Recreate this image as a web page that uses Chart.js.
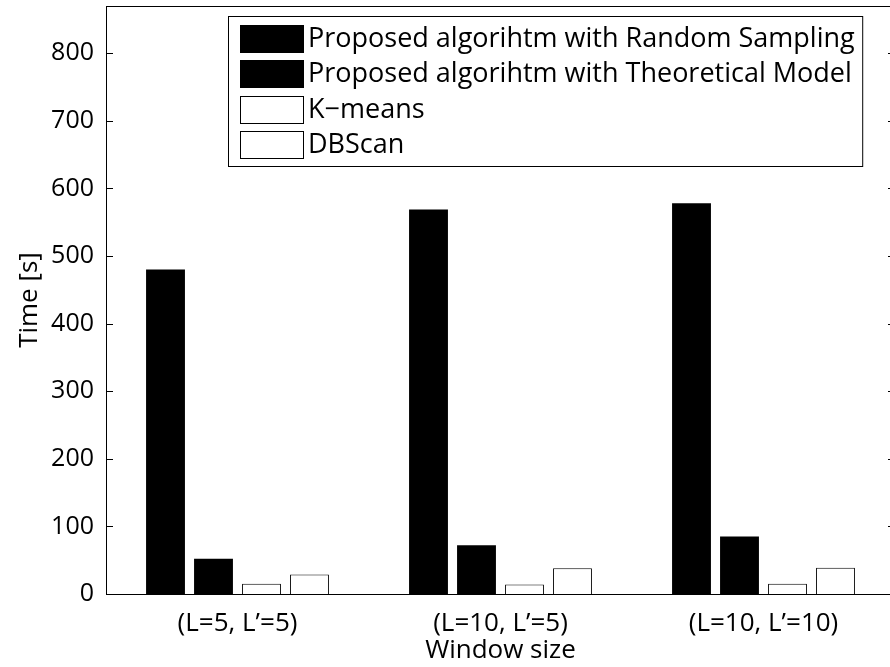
<!DOCTYPE html>
<html>
<head>
  <title>Time by window size</title>
  <script src="https://cdn.jsdelivr.net/npm/chart.js"></script>
  <style>
    html, body { margin: 0; padding: 0; overflow: hidden; background: #fff; }
  </style>
</head>
<body>
  <canvas id="timeChart" width="900" height="667"></canvas>

  <script>
    // values
    const windowSizes = ["(L=5, L\u2019=5)", "(L=10, L\u2019=5)", "(L=10, L\u2019=10)"];
    const randomSampling = [480, 569, 578];
    const theoreticalModel = [52, 72, 85];
    const kMeans = [15, 14, 15];
    const dbScan = [29, 38, 39];
    const yTicks = [0, 100, 200, 300, 400, 500, 600, 700, 800];

    const fontFamily = "'Open Sans', 'DejaVu Sans', sans-serif";
    const tickSize = 25;
    const labelSize = 26;
    const legendSize = 27;

    // frame, inward ticks and the boxed legend (MATLAB look)
    const matlabFrame = {
      id: "matlabFrame",
      afterDatasetsDraw(chart) {
        const { ctx, chartArea: a, scales: { y } } = chart;
        ctx.save();
        ctx.strokeStyle = "#000";
        ctx.lineWidth = 1;
        ctx.strokeRect(a.left + 0.5, a.top + 0.5, a.right - a.left, a.bottom - a.top);
        yTicks.forEach(v => {
          const py = Math.round(y.getPixelForValue(v)) + 0.5;
          ctx.beginPath();
          ctx.moveTo(a.left, py); ctx.lineTo(a.left + 7, py);
          ctx.moveTo(a.right, py); ctx.lineTo(a.right - 7, py);
          ctx.stroke();
        });

        // legend
        const boxX = 228.5, boxY = 16.5;
        const swX = 240, swW = 63, swH = 27, rowH = 35.3, textX = 308;
        ctx.font = legendSize + "px " + fontFamily;
        const sets = chart.data.datasets;
        let maxW = 0;
        sets.forEach(ds => { maxW = Math.max(maxW, ctx.measureText(ds.label).width); });
        const boxW = textX + maxW + 8 - boxX;
        const boxH = 150;
        ctx.fillStyle = "#fff";
        ctx.fillRect(boxX, boxY, boxW, boxH);
        ctx.strokeRect(boxX, boxY, boxW, boxH);
        ctx.textBaseline = "middle";
        sets.forEach((ds, i) => {
          const top = 25 + i * rowH;
          ctx.fillStyle = ds.backgroundColor;
          ctx.fillRect(swX + 0.5, Math.round(top) + 0.5, swW, swH);
          ctx.strokeRect(swX + 0.5, Math.round(top) + 0.5, swW, swH);
          ctx.fillStyle = "#000";
          ctx.fillText(ds.label, textX, top + swH / 2 + 1);
        });
        ctx.restore();
      }
    };

    new Chart(document.getElementById("timeChart"), {
      type: "bar",
      data: {
        labels: windowSizes,
        datasets: [
          { label: "Proposed algorihtm with Random Sampling", data: randomSampling, backgroundColor: "#000", borderColor: "#000", borderWidth: 0 },
          { label: "Proposed algorihtm with Theoretical Model", data: theoreticalModel, backgroundColor: "#000", borderColor: "#000", borderWidth: 0 },
          { label: "K\u2212means", data: kMeans, backgroundColor: "#fff", borderColor: "#000", borderWidth: 1 },
          { label: "DBScan", data: dbScan, backgroundColor: "#fff", borderColor: "#000", borderWidth: 1 }
        ]
      },
      options: {
        responsive: false,
        animation: false,
        devicePixelRatio: 1,
        categoryPercentage: 0.73,
        barPercentage: 0.81,
        layout: { padding: { top: 6, right: 5, left: 0, bottom: 0 } },
        plugins: { legend: { display: false }, tooltip: { enabled: false } },
        scales: {
          x: {
            grid: { display: false },
            border: { display: false },
            ticks: { color: "#000", font: { family: fontFamily, size: labelSize }, padding: 6, maxRotation: 0 },
            title: { display: true, text: "Window size", color: "#000", font: { family: fontFamily, size: labelSize }, padding: { top: 0, bottom: 1 } },
            afterFit(scale) {
              scale.height = 73;
              scale.paddingLeft = 0;
              scale.paddingRight = 0;
            }
          },
          y: {
            min: 0,
            max: 870,
            grid: { display: false },
            border: { display: false },
            ticks: {
              stepSize: 100,
              color: "#000",
              font: { family: fontFamily, size: tickSize },
              padding: 4,
              callback: v => (v % 100 === 0 ? v : "")
            },
            title: { display: true, text: "Time [s]", color: "#000", font: { family: fontFamily, size: labelSize }, padding: { top: 14, bottom: 0 } },
            afterFit(scale) {
              scale.width = 106;
              scale.paddingTop = 0;
              scale.paddingBottom = 0;
            }
          }
        }
      },
      plugins: [matlabFrame]
    });
  </script>
</body>
</html>
